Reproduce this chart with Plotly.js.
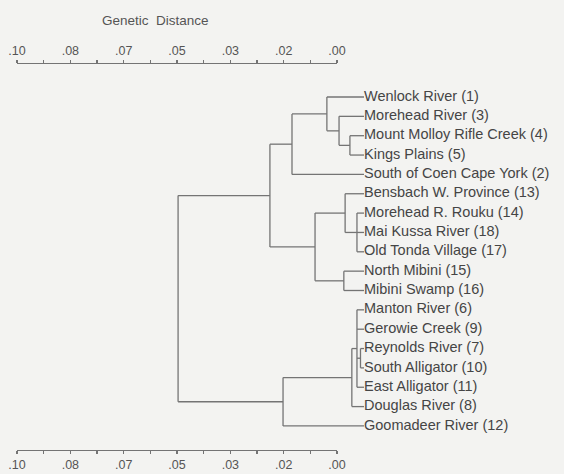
<!DOCTYPE html>
<html>
<head>
<meta charset="utf-8">
<script src="https://cdn.plot.ly/plotly-3.0.1.min.js"></script>
<style>html,body{margin:0;padding:0;background:#f3f3f1;}</style>
</head>
<body>
<div id="chart" style="width:564px;height:474px;"></div>
<script>
// Leaves (top to bottom)
const leaves = [
  'Wenlock River (1)', 'Morehead River (3)', 'Mount Molloy Rifle Creek (4)', 'Kings Plains (5)',
  'South of Coen Cape York (2)', 'Bensbach W. Province (13)', 'Morehead R. Rouku (14)',
  'Mai Kussa River (18)', 'Old Tonda Village (17)', 'North Mibini (15)', 'Mibini Swamp (16)',
  'Manton River (6)', 'Gerowie Creek (9)', 'Reynolds River (7)', 'South Alligator (10)',
  'East Alligator (11)', 'Douglas River (8)', 'Goomadeer River (12)'
];
// Internal nodes: id, genetic distance (height), children (leaf index or node id)
const nodeIds = ['n0','n1','n2','n3','n4','n5','n6','n7','n8','n9','n10','n11','n12','n13'];
const nodeHeights = [0.0044, 0.0078, 0.0116, 0.0225, 0.0022, 0.0059, 0.0063, 0.0153, 0.0294, 0.0011, 0.0022, 0.0038, 0.0253, 0.0581];
const nodeChildren = [
  [2, 3], [1, 'n0'], [0, 'n1'], ['n2', 4],
  [6, 7, 8], [5, 'n4'], [9, 10], ['n5', 'n6'], ['n3', 'n7'],
  [13, 14], [11, 12, 'n9', 15], ['n10', 16], ['n11', 17], ['n8', 'n12']
];
// Scale axis ticks
const tickVals = [0.10, 0.08333, 0.06667, 0.05, 0.03333, 0.01667, 0.00];
const tickText = ['.10', '.08', '.07', '.05', '.03', '.02', '.00'];
const minorVals = [0.09167, 0.075, 0.05833, 0.04167, 0.025, 0.00833];
const axisTitle = 'Genetic&nbsp; Distance';

// Build tree segments
const pos = {};
leaves.forEach((l, i) => { pos[i] = {x: 0, y: i}; });
const lx = [], ly = [];
nodeIds.forEach((id, k) => {
  const h = nodeHeights[k];
  const ch = nodeChildren[k].map(c => pos[c]);
  const ys = ch.map(c => c.y);
  const ymin = Math.min(...ys), ymax = Math.max(...ys);
  lx.push(h, h, null); ly.push(ymin, ymax, null);
  ch.forEach(c => { lx.push(c.x, h, null); ly.push(c.y, c.y, null); });
  pos[id] = {x: h, y: (ymin + ymax) / 2};
});

const lineCol = '#747474';
const textCol = '#454545';
const fontFam = 'Arial, "Liberation Sans", Helvetica, sans-serif';

const traces = [
  {x: lx, y: ly, xaxis: 'x3', yaxis: 'y2', mode: 'lines', type: 'scatter',
   line: {color: lineCol, width: 1.3}, hoverinfo: 'skip', showlegend: false},
  {x: leaves.map(() => 0), y: leaves.map((l, i) => i), text: leaves, xaxis: 'x3', yaxis: 'y2',
   mode: 'text', type: 'scatter', textposition: 'middle right', cliponaxis: false,
   textfont: {family: fontFam, size: 14.5, color: textCol}, hoverinfo: 'skip', showlegend: false},
  {x: [0.1, 0], y: [0, 0], xaxis: 'x', yaxis: 'y', mode: 'none', type: 'scatter', hoverinfo: 'skip', showlegend: false},
  {x: [0.1, 0], y: [0, 0], xaxis: 'x2', yaxis: 'y', mode: 'none', type: 'scatter', hoverinfo: 'skip', showlegend: false}
];

const scaleAxis = (side) => ({
  domain: [17/564, 337/564], range: [0.10, 0.0], side: side, anchor: 'y',
  showline: true, linecolor: lineCol, linewidth: 1.2, showgrid: false, zeroline: false,
  ticks: 'outside', ticklen: 3, tickwidth: 1.1, tickcolor: lineCol,
  tickmode: 'array', tickvals: tickVals, ticktext: tickText,
  tickfont: {family: fontFam, size: 12.5, color: '#555'},
  minor: {tickvals: minorVals, ticks: 'outside', ticklen: 3, tickwidth: 1.1, tickcolor: lineCol, showgrid: false},
  fixedrange: true
});

const layout = {
  width: 564, height: 474,
  margin: {l: 0, r: 0, t: 0, b: 0},
  paper_bgcolor: '#f3f3f1', plot_bgcolor: 'rgba(0,0,0,0)',
  showlegend: false,
  xaxis: scaleAxis('bottom'),
  xaxis2: Object.assign(scaleAxis('top'), {overlaying: 'x'}),
  yaxis: {domain: [1 - 450/474, 1 - 64/474], range: [0, 1], visible: false, fixedrange: true},
  xaxis3: {domain: [0, 1], range: [364/3200, 364/3200 - 564/3200], visible: false, anchor: 'y2', fixedrange: true},
  yaxis2: {domain: [0, 1], range: [(474 - 97)/19.35, -97/19.35], visible: false, anchor: 'x3', fixedrange: true},
  annotations: [{text: axisTitle, xref: 'paper', yref: 'paper', x: 155/564, y: 1 - 20/474,
    xanchor: 'center', yanchor: 'middle', showarrow: false,
    font: {family: fontFam, size: 13.5, color: '#555'}}]
};

Plotly.newPlot('chart', traces, layout, {displayModeBar: false, staticPlot: true});
</script>
</body>
</html>
